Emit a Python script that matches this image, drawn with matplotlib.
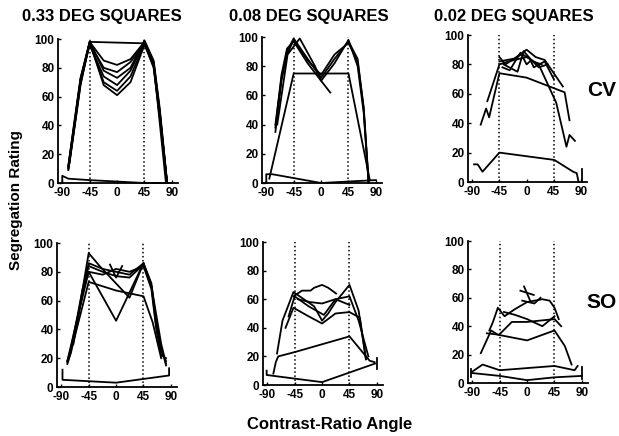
import matplotlib.pyplot as plt

plt.rcParams['font.family'] = ['Liberation Sans', 'DejaVu Sans']
plt.rcParams['axes.unicode_minus'] = False

W, H = 619, 436

TITLES = ['0.33 DEG SQUARES', '0.08 DEG SQUARES', '0.02 DEG SQUARES']
ROW_LABELS = ['CV', 'SO']
XTICKS = [-90, -45, 0, 45, 90]
YTICKS = [0, 20, 40, 60, 80, 100]

# ---- 0.33 deg, CV ----
CV033_X = [-80, -70, -60, -45, -22, 0, 22, 45, 60, 70, 82]
CV033_LINES = [
    (CV033_X, [10, 40, 70, 98, 85, 82, 86, 98, 84, 50, 0]),
    (CV033_X, [12, 42, 72, 97, 80, 77, 84, 97, 82, 48, 0]),
    (CV033_X, [9, 38, 68, 98, 78, 73, 80, 99, 85, 52, 1]),
    (CV033_X, [11, 41, 71, 96, 74, 68, 78, 98, 83, 49, 0]),
    (CV033_X, [10, 39, 69, 97, 70, 64, 74, 97, 80, 46, 0]),
    (CV033_X, [12, 43, 73, 98, 68, 61, 70, 96, 81, 47, 0]),
    ([-78, -60, -45, 45, 60, 80], [14, 72, 98, 97, 83, 1]),
    ([-90, -90, -80, -45, 0, 45, 90], [0, 5, 3, 2, 1, 0, 0]),
]

# ---- 0.08 deg, CV ----
CV008_X = [-75, -65, -56, -45, -22, 0, 22, 45, 60, 70, 78]
CV008_LINES = [
    (CV008_X, [40, 72, 90, 99, 85, 72, 85, 97, 85, 50, 0]),
    (CV008_X, [35, 70, 88, 98, 84, 74, 88, 96, 83, 52, 1]),
    (CV008_X, [38, 74, 92, 97, 82, 70, 82, 98, 80, 48, 0]),
    ([-72, -55, -35, -10, 0, 15], [40, 88, 99, 80, 70, 62]),
    ([-85, -45, 45, 80], [3, 75, 75, 2]),
    ([-90, -90, -80, 0, 90], [0, 6, 6, 0, 2]),
]

# ---- 0.02 deg, CV ----
CV002_LINES = [
    ([-76, -67, -62, -45, 0, 63, 71], [39, 50, 44, 74, 71, 61, 42]),
    ([-65, -45, -30, 0, 20, 49, 66, 71, 80], [55, 80, 82, 85, 80, 54, 24, 32, 28]),
    ([-45, -35, -20, 0, 15, 30, 60], [85, 80, 84, 90, 85, 83, 65]),
    ([-40, -28, -10, 0, 8, 20, 35], [78, 76, 88, 80, 83, 78, 80]),
    ([-45, -20, -8, 5, 12, 30, 45], [82, 84, 87, 84, 78, 82, 70]),
    ([-38, -15, -5, 10, 25], [80, 75, 89, 82, 80]),
    ([-87, -81, -73, -45, 46, 77, 83, 86, 86], [12, 12, 7, 20, 15, 7, 6, 0, 0]),
    ([91, 91], [0, 9]),
]

# ---- 0.33 deg, SO ----
SO033_X = [-80, -74, -64, -55, -45, -22, 0, 22, 45, 58, 66, 74, 82]
SO033_LINES = [
    (SO033_X, [17, 25, 46, 65, 86, 82, 80, 78, 86, 72, 45, 28, 15]),
    (SO033_X, [18, 27, 48, 68, 84, 80, 77, 76, 85, 70, 42, 25, 18]),
    (SO033_X, [16, 24, 44, 66, 80, 78, 82, 80, 84, 68, 40, 22, 20]),
    ([-80, -64, -45, 0, 45, 58, 74, 82], [18, 47, 80, 46, 86, 70, 30, 16]),
    ([-70, -45, -27, 22, 45], [30, 93, 84, 62, 86]),
    ([-72, -45, 0, 45, 60, 74], [28, 73, 67, 63, 45, 20]),
    ([-10, 0, 10], [85, 76, 84]),
    ([-88, -88, 0, 87, 87], [12, 5, 3, 8, 13]),
]

# ---- 0.08 deg, SO ----
SO008_LINES = [
    ([-74, -65, -47, -30, -13, 0, 10, 22, 45, 60, 72], [22, 45, 65, 60, 55, 45, 50, 58, 70, 52, 18]),
    ([-47, -33, -19, -13, 0, 10, 23], [62, 66, 66, 68, 70, 68, 64]),
    ([-60, -47, -22, 0, 22, 45, 62, 72], [40, 54, 48, 43, 50, 51, 47, 18]),
    ([-55, -45, -22, 3, 22, 45, 60, 76], [48, 62, 55, 49, 60, 62, 45, 20]),
    ([-40, -20, 0, 22, 45], [60, 58, 57, 60, 56]),
    ([-80, -76, -72, -45, 45, 78, 86], [8, 16, 20, 23, 34, 17, 16]),
    ([-91, -91, 0, 87], [10, 7, 2, 15]),
    ([90, 90], [11, 19]),
]

# ---- 0.02 deg, SO ----
SO002_LINES = [
    ([-76, -59, -48, 0, 45, 62, 73], [21, 37, 34, 30, 37, 26, 13]),
    ([-62, -56, -48, -37, -20, 0, 25, 37, 45, 52], [37, 43, 53, 47, 52, 57, 59, 58, 53, 45]),
    ([-66, -46, -25, 0, 45, 56], [35, 34, 43, 43, 45, 40]),
    ([-38, -20, 0, 25, 45], [50, 48, 45, 40, 47]),
    ([-11, 11], [65, 62]),
    ([-5, 5], [68, 58]),
    ([-8, 12, 22], [58, 56, 60]),
    ([-90, -73, -45, 45, 78, 83], [8, 13, 9, 12, 9, 12]),
    ([-90, -45, 0, 45, 90], [7, 5, 2, 4, 5]),
    ([90, 90], [3, 11]),
    ([-92, -92], [4, 10]),
]

PANELS = [CV033_LINES, CV008_LINES, CV002_LINES,
          SO033_LINES, SO008_LINES, SO002_LINES]

# axes boxes in pixels: left, top, right, bottom
BOXES = [(58, 39, 178, 183), (262, 37, 382, 183), (468, 35, 587, 182),
         (57, 243, 177, 387), (263, 242, 383, 385), (468, 241, 588, 383)]


def px(x, y):
    return x / W, 1 - y / H


def main():
    fig = plt.figure(figsize=(W / 100, H / 100), dpi=100)

    for lines, (l, t, r, b) in zip(PANELS, BOXES):
        ax = fig.add_axes([l / W, 1 - b / H, (r - l) / W, (b - t) / H])
        for xs, ys in lines:
            ax.plot(xs, ys, '-', color='k', lw=1.3, clip_on=False)
        ax.vlines([-45, 45], 0, 100, colors='k', linestyles=':', lw=1.1)
        ax.set_xlim(-97, 100)
        ax.set_ylim(0, 100)
        ax.set_xticks(XTICKS)
        ax.set_yticks(YTICKS)
        ax.spines['top'].set_visible(False)
        ax.spines['right'].set_visible(False)
        for s in ['left', 'bottom']:
            ax.spines[s].set_linewidth(1.3)
        ax.tick_params(direction='in', length=2, width=1, labelsize=8.5)
        ax.tick_params(axis='x', pad=3)
        ax.tick_params(axis='y', pad=2.5)
        for lab in ax.get_xticklabels() + ax.get_yticklabels():
            lab.set_fontweight('bold')

    for title, cx in zip(TITLES, [102, 309, 514]):
        fig.text(*px(cx, 16), title, ha='center', va='center',
                 fontsize=12, fontweight='bold')
    for lab, cy in zip(ROW_LABELS, [90, 302]):
        fig.text(*px(602, cy), lab, ha='center', va='center',
                 fontsize=15, fontweight='bold')
    fig.text(*px(16, 200), 'Segregation Rating', ha='center', va='center',
             rotation=90, fontsize=11, fontweight='bold')
    fig.text(*px(330, 424), 'Contrast-Ratio Angle', ha='center',
             va='center', fontsize=12, fontweight='bold')

    plt.savefig('out.png', dpi=100)


if __name__ == '__main__':
    main()
